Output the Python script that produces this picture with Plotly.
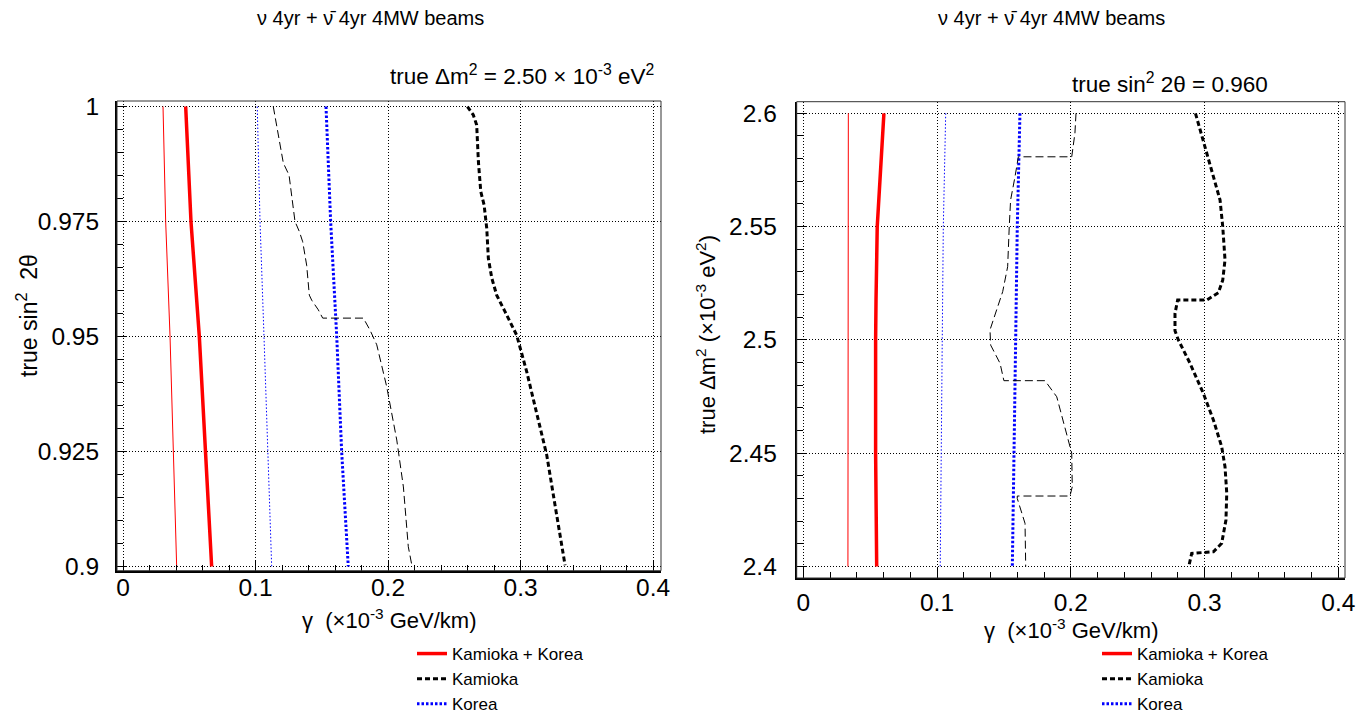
import plotly.graph_objects as go

W, H = 1358, 717

# ---------------- data: left panel (true dm2 = 2.50e-3) ----------------
L_kk_thin_x = [0.0302, 0.0322, 0.0355, 0.0380, 0.0405]
L_kk_thin_y = [1.0, 0.975, 0.95, 0.925, 0.9]
L_kk_thick_x = [0.0473, 0.0513, 0.0576, 0.0622, 0.0669]
L_kk_thick_y = [1.0, 0.975, 0.95, 0.925, 0.9]

L_ko_thin_x = [0.1013, 0.1034, 0.1064, 0.1093, 0.1122]
L_ko_thin_y = [1.0, 0.975, 0.95, 0.925, 0.9]
L_ko_thick_x = [0.1532, 0.1567, 0.1613, 0.1650, 0.1700]
L_ko_thick_y = [1.0, 0.975, 0.95, 0.925, 0.9]

L_ka_thin_x = [0.1134, 0.1185, 0.1210, 0.1253, 0.1281, 0.1298, 0.1331, 0.1356, 0.1386,
               0.1406, 0.1424, 0.1474, 0.1507, 0.1814, 0.1864, 0.1915, 0.1990, 0.2066,
               0.2116, 0.2153, 0.2181]
L_ka_thin_y = [1.0, 0.9916, 0.9877, 0.9851, 0.9786, 0.9750, 0.9728, 0.9706, 0.9655,
               0.9590, 0.9579, 0.9558, 0.9540, 0.9540, 0.9514, 0.9482, 0.9391, 0.9275,
               0.9173, 0.9043, 0.9001]
L_ka_thick_x = [0.2599, 0.2643, 0.2669, 0.2682, 0.2700, 0.2725, 0.2745, 0.2757, 0.2783,
                0.2820, 0.2883, 0.2971, 0.3047, 0.3134, 0.3198, 0.3260, 0.3311, 0.3336]
L_ka_thick_y = [1.0, 0.9982, 0.9960, 0.9880, 0.9815, 0.9786, 0.9735, 0.9670, 0.9627,
                0.9590, 0.9554, 0.9503, 0.9423, 0.9315, 0.9242, 0.9134, 0.9040, 0.9003]

# ---------------- data: right panel (true sin^2 2theta = 0.960) ----------------
R_kk_thin_x = [0.0337, 0.0336, 0.0334]
R_kk_thin_y = [2.6, 2.5, 2.4]
R_kk_thick_x = [0.0603, 0.0573, 0.0553, 0.0544, 0.0541, 0.0541, 0.0549]
R_kk_thick_y = [2.6, 2.569, 2.55, 2.5176, 2.5, 2.45, 2.4]

R_ko_thin_x = [0.1065, 0.1047, 0.1039, 0.1032, 0.1024]
R_ko_thin_y = [2.6, 2.55, 2.5, 2.45, 2.4]
R_ko_thick_x = [0.1620, 0.1600, 0.1588, 0.1575, 0.1563]
R_ko_thick_y = [2.6, 2.55, 2.5, 2.45, 2.4]

R_ka_thin_x = [0.2039, 0.2031, 0.2007, 0.1608, 0.1583, 0.1550, 0.1540, 0.1528, 0.1491,
               0.1446, 0.1396, 0.1401, 0.1471, 0.1500, 0.1807, 0.1895, 0.1957, 0.2007,
               0.2011, 0.1994, 0.1600, 0.1600, 0.1658, 0.1663]
R_ka_thin_y = [2.6, 2.5912, 2.5808, 2.5808, 2.5720, 2.5617, 2.55, 2.5323, 2.5213,
               2.5132, 2.5044, 2.4977, 2.4897, 2.4820, 2.4820, 2.4749, 2.4617, 2.45,
               2.4352, 2.4311, 2.4311, 2.4300, 2.4190, 2.4]
R_ka_thick_x = [0.2932, 0.3003, 0.3066, 0.3116, 0.3136, 0.3153, 0.3136, 0.3103, 0.3016,
                0.2799, 0.2779, 0.2779, 0.2804, 0.2891, 0.2991, 0.3066, 0.3128, 0.3153,
                0.3166, 0.3160, 0.3128, 0.3066, 0.2904, 0.2886, 0.2882]
R_ka_thick_y = [2.6, 2.5853, 2.5720, 2.5617, 2.55, 2.5353, 2.5264, 2.5208, 2.5176,
                2.5176, 2.5117, 2.5040, 2.5, 2.4897, 2.4764, 2.4647, 2.4529, 2.4440,
                2.4323, 2.4205, 2.4102, 2.4065, 2.4058, 2.4007, 2.4]

x_tickvals = [0, 0.1, 0.2, 0.3, 0.4]
x_ticktext = ["0", "0.1", "0.2", "0.3", "0.4"]
yl_tickvals = [0.9, 0.925, 0.95, 0.975, 1.0]
yl_ticktext = ["0.9", "0.925", "0.95", "0.975", "1"]
yr_tickvals = [2.4, 2.45, 2.5, 2.55, 2.6]
yr_ticktext = ["2.4", "2.45", "2.5", "2.55", "2.6"]

names = ["Kamioka + Korea", "Kamioka", "Korea"]

FONT = "Liberation Sans"
RED, BLACK, BLUE = "#ff0000", "#000000", "#0000ff"

fig = go.Figure()


def add_panel(xa, ya, legend, kk, ka, ko):
    (kk_tx, kk_ty, kk_kx, kk_ky) = kk
    (ka_tx, ka_ty, ka_kx, ka_ky) = ka
    (ko_tx, ko_ty, ko_kx, ko_ky) = ko
    # thick curves carry the legend entries
    fig.add_trace(go.Scatter(x=kk_kx, y=kk_ky, mode="lines", name=names[0],
                             line=dict(color=RED, width=3.5), xaxis=xa, yaxis=ya,
                             legend=legend, showlegend=True))
    fig.add_trace(go.Scatter(x=ka_kx, y=ka_ky, mode="lines", name=names[1],
                             line=dict(color=BLACK, width=3, dash="5px,3px"), xaxis=xa, yaxis=ya,
                             legend=legend, showlegend=True))
    fig.add_trace(go.Scatter(x=ko_kx, y=ko_ky, mode="lines", name=names[2],
                             line=dict(color=BLUE, width=3, dash="2.5px,2px"), xaxis=xa, yaxis=ya,
                             legend=legend, showlegend=True))
    # thin curves
    fig.add_trace(go.Scatter(x=kk_tx, y=kk_ty, mode="lines", name=names[0],
                             line=dict(color=RED, width=1), xaxis=xa, yaxis=ya, showlegend=False))
    fig.add_trace(go.Scatter(x=ka_tx, y=ka_ty, mode="lines", name=names[1],
                             line=dict(color=BLACK, width=1, dash="8px,4px"), xaxis=xa, yaxis=ya,
                             showlegend=False))
    fig.add_trace(go.Scatter(x=ko_tx, y=ko_ty, mode="lines", name=names[2],
                             line=dict(color=BLUE, width=1, dash="1.5px,2px"), xaxis=xa, yaxis=ya,
                             showlegend=False))


add_panel("x", "y", "legend",
          (L_kk_thin_x, L_kk_thin_y, L_kk_thick_x, L_kk_thick_y),
          (L_ka_thin_x, L_ka_thin_y, L_ka_thick_x, L_ka_thick_y),
          (L_ko_thin_x, L_ko_thin_y, L_ko_thick_x, L_ko_thick_y))
add_panel("x2", "y2", "legend2",
          (R_kk_thin_x, R_kk_thin_y, R_kk_thick_x, R_kk_thick_y),
          (R_ka_thin_x, R_ka_thin_y, R_ka_thick_x, R_ka_thick_y),
          (R_ko_thin_x, R_ko_thin_y, R_ko_thick_x, R_ko_thick_y))

TICKFONT = dict(family=FONT, size=24.5, color="black")


def axis_common(tickvals, ticktext, minor_dtick, domain, rng, anchor, standoff):
    return dict(domain=domain, range=rng, anchor=anchor, automargin=False,
                tickmode="array", tickvals=tickvals, ticktext=ticktext,
                ticks="inside", ticklen=10, tickwidth=1, tickcolor="black",
                minor=dict(dtick=minor_dtick, tick0=0, ticks="inside", ticklen=6,
                           tickwidth=1, tickcolor="black", showgrid=False),
                showline=True, linecolor="black", linewidth=2, mirror=False,
                showgrid=True, gridcolor="black", gridwidth=1, griddash="1px,2px",
                zeroline=False, tickfont=TICKFONT, ticklabelstandoff=standoff)


LEGFONT = dict(family=FONT, size=17, color="black")

fig.update_layout(
    width=W, height=H,
    margin=dict(l=0, r=0, t=0, b=0, autoexpand=False),
    paper_bgcolor="white", plot_bgcolor="white",
    font=dict(family=FONT, color="black"),
    xaxis=axis_common(x_tickvals, x_ticktext, 0.02,
                      [117 / W, 661 / W], [-0.00453, 0.4060], "y", -6),
    yaxis=axis_common(yl_tickvals, yl_ticktext, 0.005,
                      [1 - 570.7 / H, 1 - 101 / H], [0.89909, 1.0012], "x", 11),
    xaxis2=axis_common(x_tickvals, x_ticktext, 0.02,
                       [796.7 / W, 1345 / W], [-0.0049, 0.4050], "y2", 2),
    yaxis2=axis_common(yr_tickvals, yr_ticktext, 0.01,
                       [1 - 578 / H, 1 - 101.7 / H], [2.39492, 2.60512], "x2", 13),
    legend=dict(x=412 / W, y=-5 / H, xanchor="left", yanchor="bottom",
                bgcolor="rgba(0,0,0,0)", borderwidth=0, tracegroupgap=0,
                font=LEGFONT, itemwidth=30),
    legend2=dict(x=1097 / W, y=-5 / H, xanchor="left", yanchor="bottom",
                 bgcolor="rgba(0,0,0,0)", borderwidth=0, tracegroupgap=0,
                 font=LEGFONT, itemwidth=30),
)

# frames around plot areas
for xr, yr in (("x domain", "y domain"), ("x2 domain", "y2 domain")):
    fig.add_shape(type="rect", xref=xr, yref=yr, x0=0, y0=0, x1=1, y1=1,
                  line=dict(color="#333333", width=1), layer="above")

ann = []
title_txt = "ν 4yr + ν̄ 4yr 4MW beams"
ann.append(dict(text=title_txt, x=371 / W, y=1 - 18 / H, xref="paper", yref="paper",
                xanchor="center", yanchor="middle", showarrow=False,
                font=dict(family=FONT, size=20, color="black")))
ann.append(dict(text=title_txt, x=1051 / W, y=1 - 18 / H, xref="paper", yref="paper",
                xanchor="center", yanchor="middle", showarrow=False,
                font=dict(family=FONT, size=20, color="black")))
ann.append(dict(text="true Δm<sup>2</sup> = 2.50 × 10<sup>-3</sup> eV<sup>2</sup>",
                x=656 / W, y=1 - 75 / H, xref="paper", yref="paper",
                xanchor="right", yanchor="middle", showarrow=False,
                font=dict(family=FONT, size=22.5, color="black")))
ann.append(dict(text="true sin<sup>2</sup> 2θ = 0.960",
                x=1170 / W, y=1 - 83 / H, xref="paper", yref="paper",
                xanchor="center", yanchor="middle", showarrow=False,
                font=dict(family=FONT, size=22.5, color="black")))
xt = "γ  (×10<sup>-3</sup> GeV/km)"
ann.append(dict(text=xt, x=0.5, y=1 - 619 / H, xref="x domain", yref="paper",
                xanchor="center", yanchor="middle", showarrow=False,
                font=dict(family=FONT, size=22, color="black")))
ann.append(dict(text=xt, x=0.5, y=1 - 629 / H, xref="x2 domain", yref="paper",
                xanchor="center", yanchor="middle", showarrow=False,
                font=dict(family=FONT, size=22, color="black")))
ann.append(dict(text="true sin<sup>2</sup>\u00a0 2θ", x=27 / W, y=1 - 316 / H,
                xref="paper", yref="paper", textangle=-90,
                xanchor="center", yanchor="middle", showarrow=False,
                font=dict(family=FONT, size=23, color="black")))
ann.append(dict(text="true Δm<sup>2</sup> (×10<sup>-3</sup> eV<sup>2</sup>)", x=706 / W, y=1 - 335 / H,
                xref="paper", yref="paper", textangle=-90,
                xanchor="center", yanchor="middle", showarrow=False,
                font=dict(family=FONT, size=22, color="black")))
fig.update_layout(annotations=ann)

fig.write_html("out.html")
